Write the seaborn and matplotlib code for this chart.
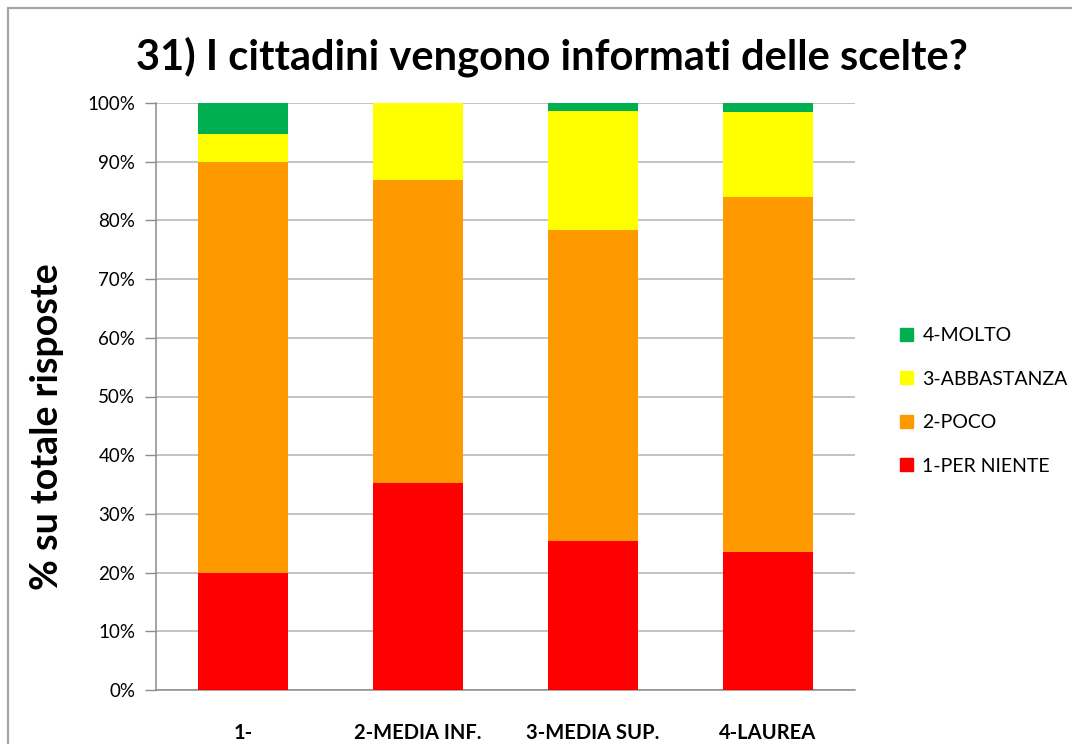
import numpy as np
import pandas as pd
import matplotlib
matplotlib.use("Agg")
import matplotlib.pyplot as plt
import matplotlib.patches as mpatches
import seaborn as sns

# Education levels and the share of each answer (percent of total responses)
categories = ["1-", "2-MEDIA INF.", "3-MEDIA SUP.", "4-LAUREA"]
per_niente = [20.0, 35.2, 25.3, 23.5]
poco = [70.0, 51.7, 53.1, 60.5]
abbastanza = [4.7, 13.1, 20.2, 14.5]
molto = [5.3, 0.0, 1.4, 1.5]

series_names = ["1-PER NIENTE", "2-POCO", "3-ABBASTANZA", "4-MOLTO"]
series_colors = ["#FF0000", "#FF9900", "#FFFF00", "#00B050"]

sns.set_theme(style="white")
plt.rcParams["font.family"] = ["Lato", "DejaVu Sans"]
plt.rcParams["text.color"] = "black"
plt.rcParams["axes.labelcolor"] = "black"

fig = plt.figure(figsize=(10.72, 7.44), dpi=100)
ax = fig.add_axes([156 / 1072, 1 - 690 / 744, (855 - 156) / 1072, (690 - 103) / 744])

# Outer chart frame
fig.patches.append(mpatches.Rectangle((8 / 1072, -0.05), 1.2, 1 - 8 / 744 + 0.05,
                                      transform=fig.transFigure, fill=False,
                                      edgecolor="#A6A6A6", linewidth=1.6, zorder=0))

df = pd.DataFrame({"cat": categories,
                   "s1": per_niente, "s2": poco, "s3": abbastanza, "s4": molto})
# Cumulative tops; drawn tallest first so the lower segments sit on top
stack = np.cumsum(np.array([per_niente, poco, abbastanza, molto]), axis=0)
for i in range(3, -1, -1):
    sns.barplot(x=df["cat"], y=stack[i], color=series_colors[i], width=0.514,
                saturation=1, ax=ax, zorder=2 + (3 - i), linewidth=0)

ax.set_ylim(0, 100)
ax.set_xlim(-0.5, 3.5)
ax.set_yticks(np.arange(0, 101, 10))
ax.set_yticklabels([f"{v}%" for v in range(0, 101, 10)], fontsize=13.5, color="#000000")
ax.yaxis.grid(True, color="#B3B3B3", linewidth=1.1, zorder=0)
ax.set_axisbelow(True)

# Category boundary ticks and centered category labels
ax.set_xticks([-0.5, 0.5, 1.5, 2.5, 3.5])
ax.set_xticklabels([])
ax.set_xticks([0, 1, 2, 3], minor=True)
ax.set_xticklabels(categories, minor=True, fontsize=14.5, fontweight="bold", color="#000000")
ax.tick_params(axis="x", which="minor", length=0, pad=24)
ax.tick_params(axis="x", which="major", length=8, width=1, color="#8C8C8C", direction="out")
ax.tick_params(axis="y", length=8, width=1, color="#8C8C8C", direction="out", left=True, pad=7)

for side in ["top", "right"]:
    ax.spines[side].set_visible(False)
for side in ["left", "bottom"]:
    ax.spines[side].set_color("#8C8C8C")
    ax.spines[side].set_linewidth(1.1)

ax.set_xlabel("")
ax.set_ylabel("% su totale risposte", fontsize=27, fontweight="bold", color="black")
ax.yaxis.set_label_coords(-0.131, 0.448)

fig.text(552 / 1072, 1 - 57 / 744, "31) I cittadini vengono informati delle scelte?",
         ha="center", va="center", fontsize=30, fontweight="bold", color="black")

handles = [mpatches.Patch(color=series_colors[i], label=series_names[i]) for i in range(3, -1, -1)]
fig.legend(handles=handles, loc="center left", bbox_to_anchor=(900 / 1072, 1 - 401 / 744),
           frameon=False, fontsize=14, labelspacing=1.36, handlelength=0.65, handleheight=0.65,
           handletextpad=0.5, borderaxespad=0, borderpad=0)

fig.savefig("out.png", dpi=100)
